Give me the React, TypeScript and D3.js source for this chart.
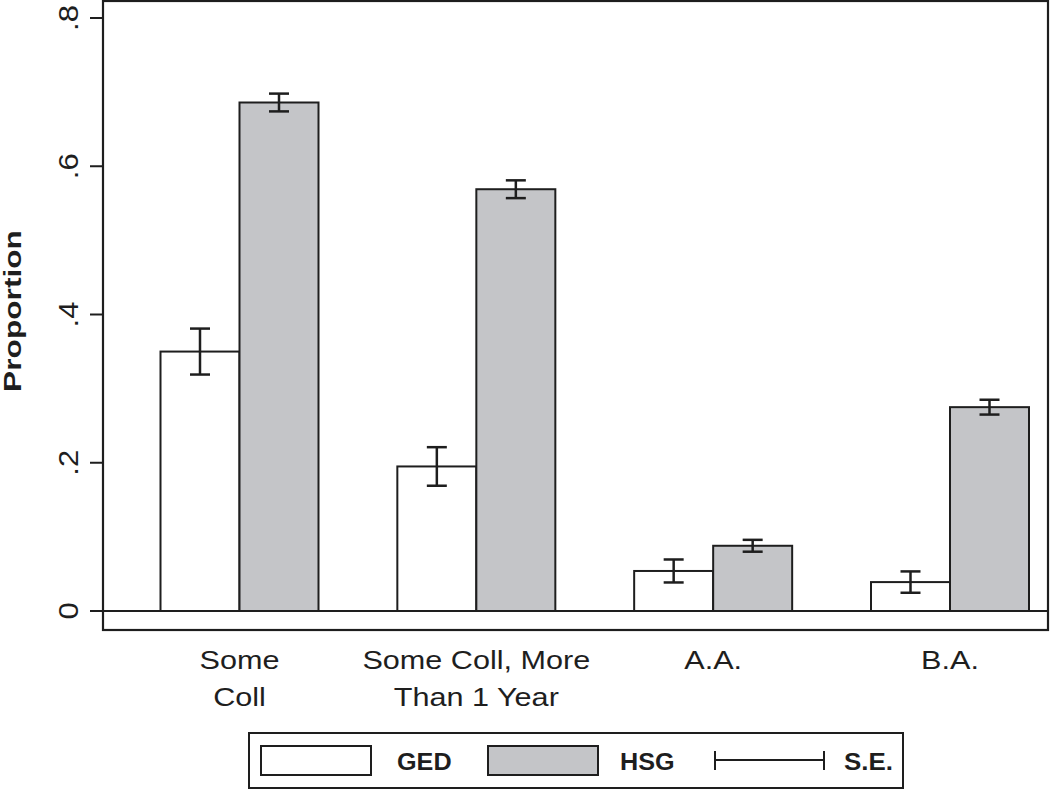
import * as d3 from 'd3';
import React from 'react';

const categories = ['Some Coll', 'Some Coll, More Than 1 Year', 'A.A.', 'B.A.'];
const categoryLines = [['Some', 'Coll'], ['Some Coll, More', 'Than 1 Year'], ['A.A.'], ['B.A.']];
const gedValues = [0.350, 0.195, 0.054, 0.039];
const gedSE = [0.031, 0.026, 0.0155, 0.0144];
const hsgValues = [0.686, 0.569, 0.088, 0.275];
const hsgSE = [0.012, 0.012, 0.008, 0.010];
const yTicks = [0, 0.2, 0.4, 0.6, 0.8];
const yTickLabels = ['0', '.2', '.4', '.6', '.8'];

const W = 1050;
const H = 790;
const plot = { left: 103, right: 1048, top: 1, bottom: 630 };
const ink = '#1e1e1e';
const gray = '#c4c5c8';
const font = '"Liberation Sans", Arial, Helvetica, sans-serif';
const barW = 79;

export default () => {
    const y = d3.scaleLinear().domain([0, 0.8]).range([611, 18]);
    const x = d3.scalePoint<string>().domain(categories).range([239.5, 950]);

    const bars = categories.flatMap((c, i) => [
        { key: c + '-ged', x0: x(c)! - barW, v: gedValues[i], se: gedSE[i], fill: '#fff' },
        { key: c + '-hsg', x0: x(c)!, v: hsgValues[i], se: hsgSE[i], fill: gray },
    ]);

    return (
        <svg width={W} height={H} style={{ position: 'absolute', left: 0, top: 0, background: '#fff' }}>
            {/* plot frame */}
            <rect x={plot.left} y={plot.top} width={plot.right - plot.left} height={plot.bottom - plot.top}
                fill="none" stroke={ink} strokeWidth={2.2} />

            {bars.map(b => (
                <rect key={b.key} x={b.x0} y={y(b.v)} width={barW} height={y(0) - y(b.v)}
                    fill={b.fill} stroke={ink} strokeWidth={2} />
            ))}

            <line x1={plot.left} x2={plot.right} y1={y(0)} y2={y(0)} stroke={ink} strokeWidth={2} />

            {bars.map(b => {
                const cx = b.x0 + barW / 2;
                return (
                    <g key={b.key + '-se'} stroke={ink} strokeWidth={2.5}>
                        <line x1={cx} x2={cx} y1={y(b.v + b.se)} y2={y(b.v - b.se)} />
                        <line x1={cx - 10} x2={cx + 10} y1={y(b.v + b.se)} y2={y(b.v + b.se)} />
                        <line x1={cx - 10} x2={cx + 10} y1={y(b.v - b.se)} y2={y(b.v - b.se)} />
                    </g>
                );
            })}

            {/* y axis */}
            {yTicks.map((t, i) => (
                <g key={'yt' + i}>
                    <line x1={90} x2={plot.left} y1={y(t)} y2={y(t)} stroke={ink} strokeWidth={2} />
                    <text transform={`translate(78,${y(t)}) rotate(-90) scale(1.15,1)`} textAnchor="middle"
                        fontFamily={font} fontSize={27} fill={ink}>{yTickLabels[i]}</text>
                </g>
            ))}
            <text transform={`translate(21,${311}) rotate(-90) scale(1.32,1)`} textAnchor="middle"
                fontFamily={font} fontSize={24} fontWeight="bold" fill={ink}>Proportion</text>

            {/* x labels */}
            {categories.map((c, i) => (
                <g key={'xl' + i}>
                    {categoryLines[i].map((ln, j) => (
                        <text key={j} transform={`translate(${x(c)},${669 + j * 36.5}) scale(1.2,1)`}
                            textAnchor="middle" fontFamily={font} fontSize={25.5} fill={ink}>{ln}</text>
                    ))}
                </g>
            ))}

            {/* legend */}
            <rect x={249} y={733} width={654} height={55} fill="#fff" stroke={ink} strokeWidth={2} />
            <rect x={261} y={746} width={110} height={29} fill="#fff" stroke={ink} strokeWidth={2} />
            <text transform="translate(397,770) scale(1.05,1)" fontFamily={font} fontSize={24}
                fontWeight="bold" fill={ink}>GED</text>
            <rect x={488} y={746} width={110} height={29} fill={gray} stroke={ink} strokeWidth={2} />
            <text transform="translate(620,770) scale(1.05,1)" fontFamily={font} fontSize={24}
                fontWeight="bold" fill={ink}>HSG</text>
            <g stroke={ink} strokeWidth={2}>
                <line x1={715} x2={824} y1={760} y2={760} />
                <line x1={715} x2={715} y1={751} y2={770} />
                <line x1={824} x2={824} y1={751} y2={770} />
            </g>
            <text transform="translate(844,770) scale(1.08,1)" fontFamily={font} fontSize={24}
                fontWeight="bold" fill={ink}>S.E.</text>
        </svg>
    );
};
